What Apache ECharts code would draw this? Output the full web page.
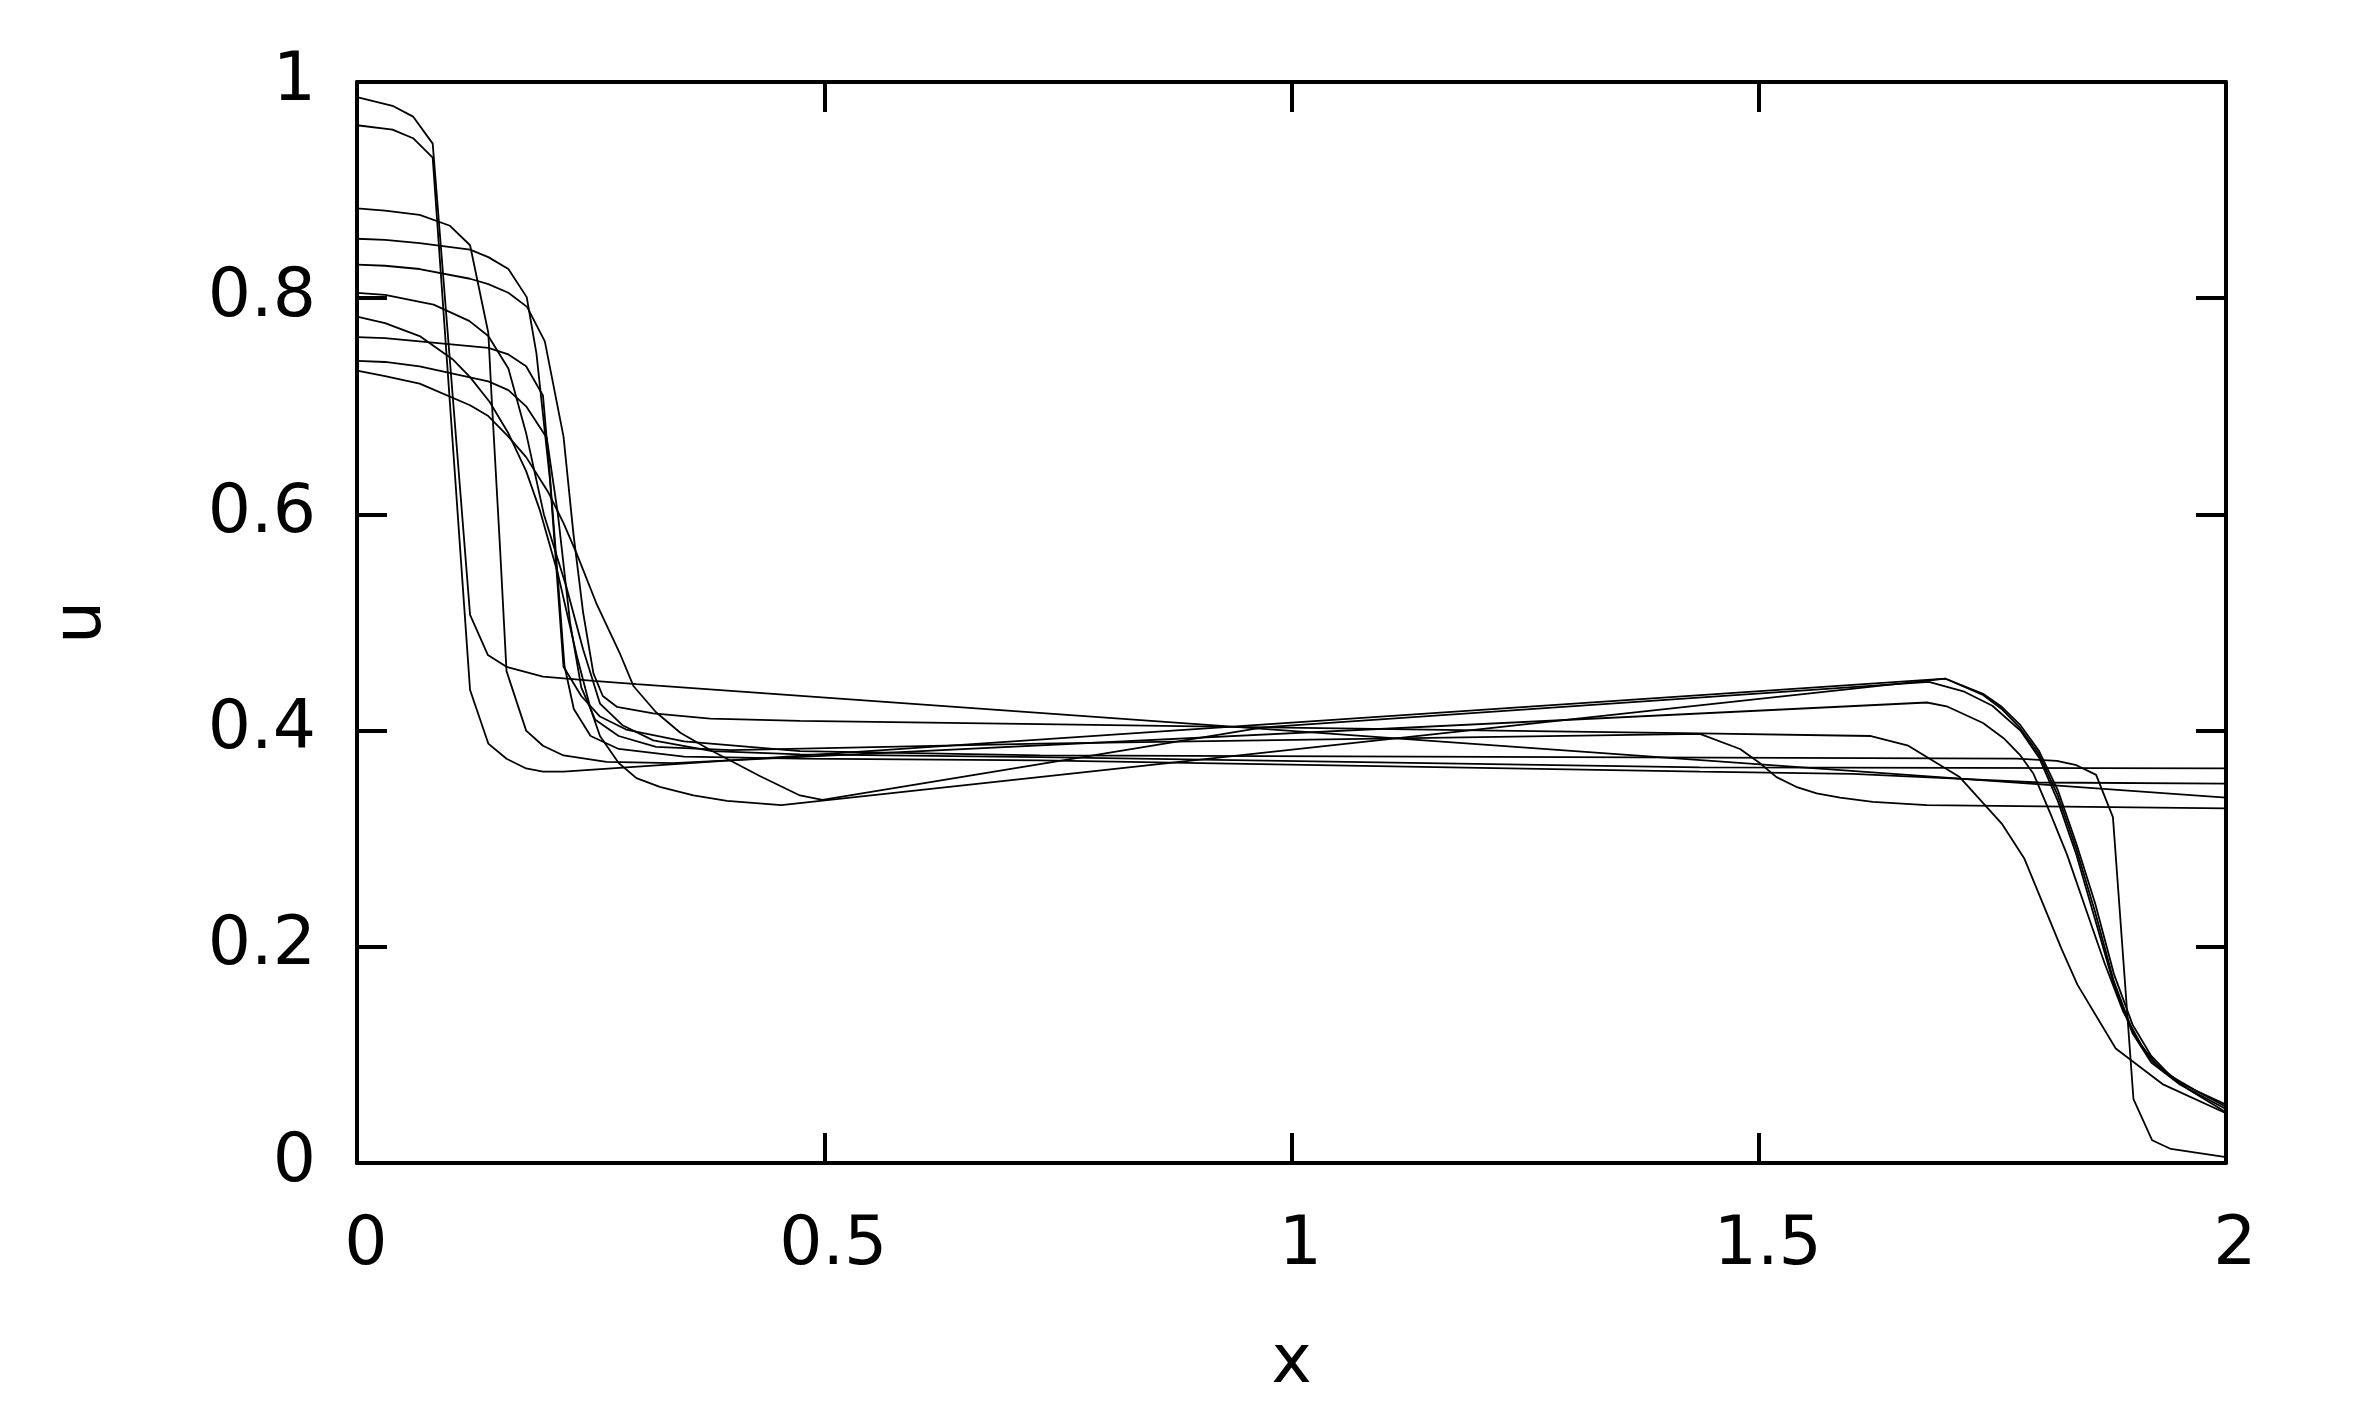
<!DOCTYPE html>
<html>
<head>
<meta charset="utf-8">
<script src="https://cdn.jsdelivr.net/npm/echarts@6/dist/echarts.min.js"></script>
<style>
html,body{margin:0;padding:0;background:#fff;}
#chart{width:2358px;height:1417px;}
</style>
</head>
<body>
<div id="chart"></div>
<script>
const xTicks = [0, 0.5, 1, 1.5, 2];
const yTicks = [0, 0.2, 0.4, 0.6, 0.8, 1];

const x1 = [0, 0.038, 0.060, 0.081, 0.121, 0.140, 0.160, 0.199, 0.253, 0.299, 2.0];
const u1 = [0.986, 0.978, 0.968, 0.943, 0.507, 0.470, 0.459, 0.450, 0.446, 0.443, 0.338];

const x2 = [0, 0.038, 0.060, 0.081, 0.121, 0.1405, 0.160, 0.181, 0.199, 0.221, 1.70, 1.74, 1.76, 1.78, 1.80, 1.82, 1.84, 1.86, 1.88, 1.90, 1.92, 1.94, 1.97, 2.0];
const u2 = [0.960, 0.956, 0.948, 0.930, 0.4375, 0.388, 0.374, 0.365, 0.362, 0.362, 0.448, 0.434, 0.422, 0.405, 0.381, 0.345, 0.295, 0.240, 0.175, 0.128, 0.099, 0.081, 0.066, 0.054];

const x3 = [0, 0.03, 0.067, 0.0995, 0.121, 0.1405, 0.144, 0.153, 0.160, 0.181, 0.199, 0.221, 0.267, 0.338, 1.68, 1.701, 1.740, 1.762, 1.780, 1.794, 1.812, 1.83, 1.85, 1.87, 1.89, 1.91, 1.93, 1.96, 2.0];
const u3 = [0.883, 0.881, 0.877, 0.867, 0.849, 0.768, 0.709, 0.570, 0.455, 0.400, 0.386, 0.377, 0.371, 0.370, 0.426, 0.4225, 0.407, 0.393, 0.377, 0.360, 0.3235, 0.285, 0.235, 0.185, 0.140, 0.108, 0.087, 0.068, 0.047];

const x4 = [0, 0.03, 0.067, 0.121, 0.1405, 0.162, 0.1816, 0.192, 0.2065, 0.221, 0.240, 0.260, 0.288, 0.35, 0.474, 0.731, 1.776, 1.819, 1.840, 1.861, 1.879, 1.901, 1.921, 1.941, 2.0];
const u4 = [0.855, 0.854, 0.851, 0.845, 0.838, 0.827, 0.801, 0.749, 0.632, 0.459, 0.432, 0.413, 0.401, 0.390, 0.381, 0.377, 0.374, 0.372, 0.368, 0.359, 0.320, 0.059, 0.021, 0.013, 0.0055];

const x5 = [0, 0.03, 0.067, 0.121, 0.1405, 0.162, 0.182, 0.201, 0.221, 0.2316, 0.242, 0.253, 0.263, 0.278, 0.317, 0.378, 0.474, 0.731, 1.22, 1.437, 1.620, 1.660, 1.715, 1.760, 1.784, 1.824, 1.841, 1.882, 1.932, 2.0];
const u5 = [0.831, 0.830, 0.827, 0.818, 0.813, 0.805, 0.792, 0.760, 0.672, 0.582, 0.509, 0.453, 0.432, 0.422, 0.416, 0.411, 0.409, 0.406, 0.400, 0.3975, 0.395, 0.386, 0.357, 0.314, 0.282, 0.198, 0.165, 0.106, 0.073, 0.046];

const x6 = [0, 0.03, 0.082, 0.120, 0.1405, 0.162, 0.181, 0.200, 0.224, 0.242, 0.260, 0.284, 0.317, 0.380, 0.474, 0.731, 1.437, 2.0];
const u6 = [0.805, 0.803, 0.794, 0.779, 0.765, 0.735, 0.675, 0.600, 0.533, 0.475, 0.425, 0.405, 0.391, 0.381, 0.378, 0.3755, 0.366, 0.365];

const x7 = [0, 0.03, 0.067, 0.103, 0.121, 0.142, 0.162, 0.181, 0.196, 0.215, 0.235, 0.250, 0.260, 0.280, 0.299, 0.324, 0.360, 0.396, 0.454, 1.70, 1.74, 1.76, 1.78, 1.80, 1.82, 1.84, 1.86, 1.88, 1.90, 1.92, 1.95, 2.0];
const u7 = [0.783, 0.777, 0.765, 0.743, 0.727, 0.704, 0.675, 0.640, 0.603, 0.545, 0.470, 0.420, 0.395, 0.370, 0.356, 0.348, 0.340, 0.335, 0.331, 0.448, 0.433, 0.420, 0.402, 0.378, 0.340, 0.290, 0.232, 0.168, 0.122, 0.095, 0.075, 0.052];

const x8 = [0, 0.03, 0.067, 0.1405, 0.162, 0.181, 0.199, 0.206, 0.215, 0.222, 0.232, 0.250, 0.280, 0.350, 0.474, 0.731, 1.437, 1.6, 1.7, 1.8, 2.0];
const u8 = [0.764, 0.763, 0.760, 0.754, 0.748, 0.737, 0.710, 0.640, 0.540, 0.460, 0.420, 0.395, 0.383, 0.376, 0.374, 0.3725, 0.362, 0.360, 0.356, 0.352, 0.351];

const x9 = [0, 0.03, 0.067, 0.1405, 0.162, 0.181, 0.203, 0.215, 0.228, 0.240, 0.255, 0.280, 0.320, 0.400, 0.731, 1.437, 1.480, 1.501, 1.519, 1.540, 1.562, 1.587, 1.622, 1.680, 2.0];
const u9 = [0.742, 0.741, 0.737, 0.723, 0.715, 0.700, 0.671, 0.600, 0.500, 0.440, 0.410, 0.395, 0.385, 0.382, 0.388, 0.397, 0.383, 0.370, 0.357, 0.348, 0.342, 0.338, 0.334, 0.331, 0.328];

const x10 = [0, 0.03, 0.067, 0.121, 0.1405, 0.162, 0.181, 0.205, 0.221, 0.235, 0.256, 0.281, 0.296, 0.320, 0.346, 0.378, 0.431, 0.474, 0.498, 0.97, 1.682, 1.72, 1.75, 1.78, 1.80, 1.82, 1.84, 1.86, 1.88, 1.90, 1.92, 1.95, 2.0];
const u10 = [0.733, 0.728, 0.721, 0.701, 0.691, 0.672, 0.653, 0.620, 0.592, 0.564, 0.518, 0.472, 0.441, 0.417, 0.398, 0.382, 0.358, 0.340, 0.336, 0.403, 0.445, 0.436, 0.423, 0.400, 0.375, 0.335, 0.285, 0.225, 0.165, 0.120, 0.093, 0.073, 0.050];

const curves = [[x1,u1],[x2,u2],[x3,u3],[x4,u4],[x5,u5],[x6,u6],[x7,u7],[x8,u8],[x9,u9],[x10,u10]];

const FONT = 'DejaVu Sans';
const FS = 68;

const chart = echarts.init(document.getElementById('chart'), null, {renderer:'canvas'});

const axisLineStyle = {color:'#000', width:4};
const tickStyle = {show:true, inside:true, length:30, lineStyle:{color:'#000', width:4}};

const series = curves.map((c, i) => ({
  name: 'c' + (i+1),
  type: 'line',
  showSymbol: false,
  symbol: 'none',
  smooth: false,
  clip: true,
  lineStyle: {color:'#000', width:1.8},
  itemStyle: {color:'#000'},
  data: c[0].map((x, j) => [x, c[1][j]]),
  z: 1
}));

chart.setOption({
  animation: false,
  backgroundColor: '#fff',
  grid: {left:357, top:82, width:1869, height:1081, containLabel:false},
  xAxis: [
    {type:'value', position:'bottom', min:0, max:2, interval:0.5,
     axisLine:{show:true, onZero:false, lineStyle:axisLineStyle},
     axisTick: tickStyle, splitLine:{show:false},
     axisLabel:{show:true, margin:49, color:'#000', fontFamily:FONT, fontSize:FS,
       padding:[0,0,0,18],
       formatter: v => xTicks.includes(v) ? String(v) : ''},
     name:'x', nameLocation:'middle', nameGap:167,
     nameTextStyle:{color:'#000', fontFamily:FONT, fontSize:FS}},
    {type:'value', position:'top', min:0, max:2, interval:0.5,
     axisLine:{show:true, onZero:false, lineStyle:axisLineStyle},
     axisTick: tickStyle, splitLine:{show:false}, axisLabel:{show:false}}
  ],
  yAxis: [
    {type:'value', position:'left', min:0, max:1, interval:0.2,
     axisLine:{show:true, onZero:false, lineStyle:axisLineStyle},
     axisTick: tickStyle, splitLine:{show:false},
     axisLabel:{show:true, margin:41, color:'#000', fontFamily:FONT, fontSize:FS,
       formatter: v => { const t = yTicks.find(y => Math.abs(y - v) < 1e-9); return t === undefined ? '' : String(t); }},
     name:'u', nameLocation:'middle', nameGap:241, nameRotate:90,
     nameTextStyle:{color:'#000', fontFamily:FONT, fontSize:FS}},
    {type:'value', position:'right', min:0, max:1, interval:0.2,
     axisLine:{show:true, onZero:false, lineStyle:axisLineStyle},
     axisTick: tickStyle, splitLine:{show:false}, axisLabel:{show:false}}
  ],
  series: series
});
</script>
</body>
</html>
